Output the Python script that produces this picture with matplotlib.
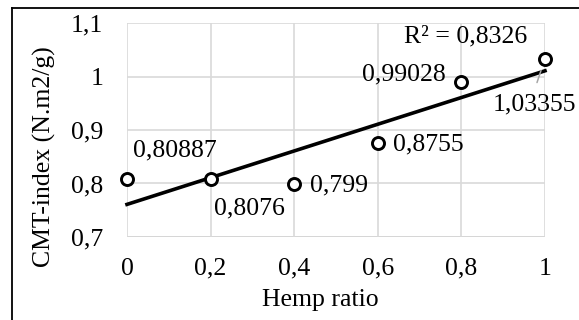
import numpy as np
import matplotlib
matplotlib.use("Agg")
import matplotlib.pyplot as plt
from matplotlib.lines import Line2D

hemp_ratio = [0, 0.2, 0.4, 0.6, 0.8, 1.0]
cmt_index = [0.80887, 0.8076, 0.799, 0.8755, 0.99028, 1.03355]
point_labels = ["0,80887", "0,8076", "0,799", "0,8755", "0,99028", "1,03355"]
x_ticks = [0, 0.2, 0.4, 0.6, 0.8, 1.0]
x_tick_labels = ["0", "0,2", "0,4", "0,6", "0,8", "1"]
y_ticks = [0.7, 0.8, 0.9, 1.0, 1.1]
y_tick_labels = ["0,7", "0,8", "0,9", "1", "1,1"]
r2_text = "R² = 0,8326"

plt.rcParams['font.family'] = ['Liberation Serif', 'DejaVu Serif']
FS = 18.5

W, H = 579, 320
fig = plt.figure(figsize=(W/100, H/100), dpi=100)
ax = fig.add_axes([127/W, 1-237/H, 418/W, 214/H])

ax.set_xlim(0, 1)
ax.set_ylim(0.7, 1.1)
ax.set_xticks(x_ticks)
ax.set_xticklabels(x_tick_labels)
ax.set_yticks(y_ticks)
ax.set_yticklabels(y_tick_labels)
ax.tick_params(axis='x', length=0, labelsize=FS, pad=15)
ax.tick_params(axis='y', length=0, labelsize=FS, pad=17)
ax.grid(True, color='#d9d9d9', linewidth=1.2)
for s in ax.spines.values():
    s.set_visible(False)
ax.axhline(0.7, color='#bfbfbf', linewidth=1.2, zorder=1)

# trend line
coef = np.polyfit(hemp_ratio, cmt_index, 1)
xs = np.array([0, 1])
ax.plot(xs, np.polyval(coef, xs), color='black', linewidth=2.6, zorder=3, clip_on=False)

ax.scatter(hemp_ratio, cmt_index, s=75, facecolors='white', edgecolors='black',
           linewidths=2.1, zorder=4, clip_on=False)

# offsets in pixels: (dx, dy, ha)
offsets = [(6, 28, 'left'), (3, -29, 'left'), (16, -1.5, 'left'), (15, -1, 'left'),
           (-16, 7.5, 'right'), (-52, -46, 'left')]
for x, y, lab, (dx, dy, ha) in zip(hemp_ratio, cmt_index, point_labels, offsets):
    ax.annotate(lab, (x, y), xytext=(dx, dy), textcoords='offset pixels',
                ha=ha, va='center', fontsize=FS, zorder=5, annotation_clip=False)

# leader line for last label
ax.annotate("", xy=(1.0, cmt_index[-1]), xytext=(-8, -24), textcoords='offset pixels',
            arrowprops=dict(arrowstyle='-', color='#a6a6a6', lw=1.1,
                            shrinkA=0, shrinkB=9), annotation_clip=False)

ax.text(0.957, 1.0757, r2_text, ha='right', va='center', fontsize=FS, zorder=5)

fig.text(320/W, 1-300/H, "Hemp ratio", ha='center', va='center', fontsize=FS)
fig.text(44/W, 1-157/H, "CMT-index (N.m2/g)", ha='center', va='center',
         rotation=90, fontsize=FS)

# figure border (left and top)
fig.add_artist(Line2D([11.5/W, 11.5/W], [0, 1-8/H], color='black', lw=1.3,
                      transform=fig.transFigure))
fig.add_artist(Line2D([11.5/W, 1], [1-8/H, 1-8/H], color='black', lw=1.3,
                      transform=fig.transFigure))

fig.savefig("out.png", dpi=100)
